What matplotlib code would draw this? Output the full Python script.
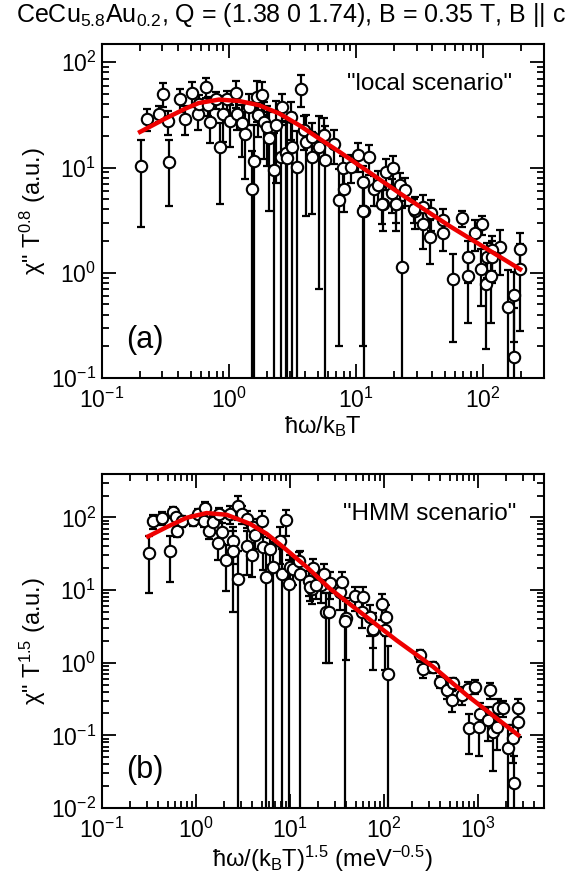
import numpy as np
import matplotlib
matplotlib.use('Agg')
import matplotlib.pyplot as plt
from matplotlib.ticker import LogLocator, NullFormatter

plt.rcParams['font.family'] = ['Liberation Sans', 'DejaVu Sans']
plt.rcParams['mathtext.fontset'] = 'custom'
plt.rcParams['mathtext.rm'] = 'Liberation Sans'
plt.rcParams['mathtext.it'] = 'Liberation Sans:italic'
plt.rcParams['mathtext.bf'] = 'Liberation Sans:bold'

# ---- panel (a): local scenario ----
xa = [0.204, 0.226, 0.280, 0.301, 0.331, 0.340, 0.415, 0.449, 0.513, 0.569,
      0.579, 0.662, 0.686, 0.708, 0.794, 0.844, 0.897, 0.969, 1.02, 1.13,
      1.16, 1.26, 1.34, 1.44, 1.51, 1.58, 1.67, 1.81, 1.71, 1.89,
      2.01, 2.07, 2.27, 2.34, 2.56, 2.64, 2.81, 2.89, 3.07, 3.13,
      3.43, 3.69, 3.92, 4.04, 4.55, 4.55, 5.14, 5.63, 5.74, 6.76,
      7.41, 7.87, 8.11, 9.16, 10.3, 11.3, 11.5, 12.6, 14.0, 14.9,
      16.3, 17.3, 19.5, 19.3, 20.8, 22.1, 24.2, 29.0, 33.7, 33.7,
      39.3, 38.6, 48.5, 48.5, 67.9, 86.4, 97.6, 135, 194, 117,
      11.3, 16.1, 20.5, 23.2, 28.6, 57.6, 76.6, 76.6, 96.4, 106,
      108, 115, 117, 156, 174, 196, 174]
ya = [10.4, 29.2, 32.6, 50.4, 27.5, 11.3, 44.5, 29.2, 51.5, 32.6,
      40.5, 58.2, 39.1, 27.1, 44.3, 15.5, 32.6, 44.3, 27.7, 51.5,
      32.6, 26.2, 20.7, 37.6, 6.2, 11.6, 46.8, 48.6, 31.4, 27.1,
      24.3, 18.9, 9.4, 25.2, 12.6, 37.6, 13.6, 12.2, 30.3, 15.7,
      10.1, 56.2, 22.6, 17.5, 19.5, 12.6, 15.7, 20.3, 11.7, 16.9,
      4.9, 9.8, 6.3, 10.1, 13.1, 7.3, 3.9, 12.5, 6.3, 6.8,
      4.5, 9.1, 9.8, 5.7, 4.5, 6.8, 6.1, 3.9, 4.2, 2.9,
      3.7, 2.2, 2.4, 3.2, 3.3, 2.4, 2.9, 1.76, 1.70, 1.64,
      3.9, 4.5, 4.5, 1.14, 4.0, 0.87, 1.40, 0.93, 1.08, 0.79,
      1.40, 0.93, 1.40, 0.47, 0.62, 1.08, 0.16]
ea = [7.7, 7, 5.5, 13, 7, 7, 11, 9, 14, 10,
      8, 12, 8, 10, 8, 11, 15, 9, 12, 15,
      10, 13.5, 13, 12, 8, 14, 20, 17, 12, 15,
      14, 15, 12, 18, 15, 12, 16, 15, 12, 17,
      12, 19, 8, 14, 7, 9, 15, 9, 13, 6,
      4.7, 3, 2.5, 3, 4, 3, 4, 4, 2, 2.5,
      2, 3, 3, 2, 2, 2, 1.8, 1.3, 1.3, 1.2,
      1.2, 1, 0.8, 0.8, 0.6, 0.8, 0.6, 0.8, 0.7, 0.6,
      3.7, 1.6, 1.5, 3, 1, 0.65, 0.6, 0.6, 0.6, 0.6,
      0.5, 0.6, 0.6, 0.6, 0.4, 0.8, 0.3]

fit_xa = [0.200, 0.316, 0.455, 0.579, 0.834, 1.20, 1.73, 2.49, 3.58, 5.15,
          7.41, 22.1, 54.8, 196]
fit_ya = [21.8, 29.2, 36.3, 41.0, 44.2, 42.9, 39.1, 32.6, 25.2, 18.8,
          14.1, 5.70, 2.77, 1.08]

# ---- panel (b): HMM scenario ----
xb = [0.319, 0.346, 0.432, 0.529, 0.565, 0.623, 0.613, 0.705, 0.936, 1.06,
      1.25, 1.22, 1.38, 1.53, 1.73, 1.77, 1.88, 2.09, 2.30, 2.49,
      2.49, 2.78, 2.78, 3.06, 3.46, 3.46, 3.91, 4.07, 4.24, 5.00,
      5.20, 5.56, 6.13, 6.64, 7.83, 8.16, 9.06, 10.0, 9.84, 10.8,
      12.6, 12.8, 16.0, 17.0, 17.7, 21.7, 24.5, 16.3, 19.2, 23.0,
      26.6, 26.2, 34.0, 35.5, 39.4, 49.1, 57.9, 60.2, 71.0, 75.8,
      94.5, 105, 103, 38.5, 76.9, 111, 241, 262, 334, 394,
      465, 525, 546, 671, 789, 808, 929, 1030, 1050, 1340,
      1290, 1460, 1580, 1640, 1860, 2100, 2380, 2410, 2680, 2680]
yb = [32, 89, 99, 34, 118, 65, 101, 89, 91, 112,
      136, 89, 65, 86, 44, 112, 63, 25.7, 112, 48,
      35, 14.4, 146, 112, 41, 96, 30, 74, 57, 88,
      39, 15.1, 37, 20.8, 48, 16.9, 91, 20.8, 12.0, 19.7,
      25.1, 16.9, 13.3, 10.5, 20.4, 11.6, 5.0, 11.0, 11.6, 16.9,
      12.5, 5.0, 9.4, 12.9, 4.1, 8.2, 5.0, 8.0, 4.3, 2.8,
      6.4, 4.3, 2.8, 3.8, 2.9, 0.71, 1.27, 0.81, 0.88, 0.55,
      0.42, 0.31, 0.52, 0.36, 0.44, 0.125, 0.47, 0.132, 0.197, 0.42,
      0.163, 0.112, 0.132, 0.24, 0.24, 0.067, 0.091, 0.022, 0.24, 0.154]
eb = [23, 20, 20, 21, 20, 12, 18, 15, 15, 20,
      25, 15, 15, 20, 18, 25, 20, 16, 30, 25,
      30, 20, 54, 30, 25, 25, 15, 20, 20, 35,
      20, 20, 15, 25, 25, 20, 35, 10, 14, 8,
      8, 18, 5, 4, 6, 5, 4, 4, 4, 6,
      5, 4, 4, 5, 3, 3, 2, 3, 2, 2,
      2.5, 2, 2, 4, 1.3, 1, 0.25, 0.2, 0.15, 0.1,
      0.1, 0.1, 0.1, 0.1, 0.1, 0.07, 0.1, 0.08, 0.08, 0.1,
      0.08, 0.08, 0.07, 0.08, 0.06, 0.07, 0.05, 0.03, 0.08, 0.06]

fit_xb = [0.311, 0.488, 0.796, 1.30, 2.12, 3.75, 5.65, 8.49, 15.1, 26.6,
          136, 334, 759, 2680]
fit_yb = [54.8, 73.6, 99, 115, 109, 81.9, 59.7, 39.1, 20.8, 10.5,
          2.04, 0.88, 0.359, 0.101]


def draw_panel(ax, x, y, err, fx, fy, xlim, ylim, label, tag, xlabel, ylabel):
    x = np.array(x)
    y = np.array(y)
    err = np.array(err)
    low = np.where(err >= y, y - 1e-6, err)
    ax.errorbar(x, y, yerr=[low, err], fmt='none', ecolor='black',
                elinewidth=1.6, capsize=3, capthick=1.6, zorder=2)
    ax.plot(x, y, 'o', ms=8.2, mfc='white', mec='black', mew=1.5, zorder=3)
    ax.plot(fx, fy, '-', color='#ee0000', lw=3.2, zorder=4)
    ax.set_xscale('log')
    ax.set_yscale('log')
    ax.set_xlim(*xlim)
    ax.set_ylim(*ylim)
    for a in (ax.xaxis, ax.yaxis):
        a.set_major_locator(LogLocator(base=10, numticks=20))
        a.set_minor_locator(LogLocator(base=10, subs=np.arange(2, 10), numticks=20))
        a.set_minor_formatter(NullFormatter())
    ax.tick_params(which='both', direction='in', top=True, right=True,
                   labelsize=16.5, width=1.3)
    ax.tick_params(which='major', length=10)
    ax.tick_params(axis='x', which='major', pad=7)
    ax.tick_params(axis='y', which='major', pad=4)
    ax.tick_params(which='minor', length=5)
    for s in ax.spines.values():
        s.set_linewidth(1.5)
    ax.text(0.742, 0.88, label, transform=ax.transAxes, ha='center',
            va='center', fontsize=17.5)
    ax.text(0.055, 0.114, tag, transform=ax.transAxes, ha='left',
            va='center', fontsize=22)
    ax.set_xlabel(xlabel, fontsize=17, labelpad=1)
    ax.set_ylabel(ylabel, fontsize=17, labelpad=2)


fig = plt.figure(figsize=(5.82, 8.75), dpi=100)
ax1 = fig.add_axes([0.175, 0.568, 0.759, 0.382])
ax2 = fig.add_axes([0.175, 0.0766, 0.759, 0.382])

draw_panel(ax1, xa, ya, ea, fit_xa, fit_ya, (0.1, 300), (0.1, 150),
           '"local scenario"', '(a)', 'ħω/k$_\\mathrm{B}$T',
           'χ" T$^{0.8}$ (a.u.)')
draw_panel(ax2, xb, yb, eb, fit_xb, fit_yb, (0.1, 5000), (0.01, 400),
           '"HMM scenario"', '(b)', 'ħω/(k$_\\mathrm{B}$T)$^{1.5}$ (meV$^{-0.5}$)',
           'χ" T$^{1.5}$ (a.u.)')

fig.text(0.5, 1 - 15 / 875, 'CeCu$_{5.8}$Au$_{0.2}$, Q = (1.38 0 1.74), B = 0.35 T, B || c',
         ha='center', va='center', fontsize=18)

fig.savefig('out.png', dpi=100)
